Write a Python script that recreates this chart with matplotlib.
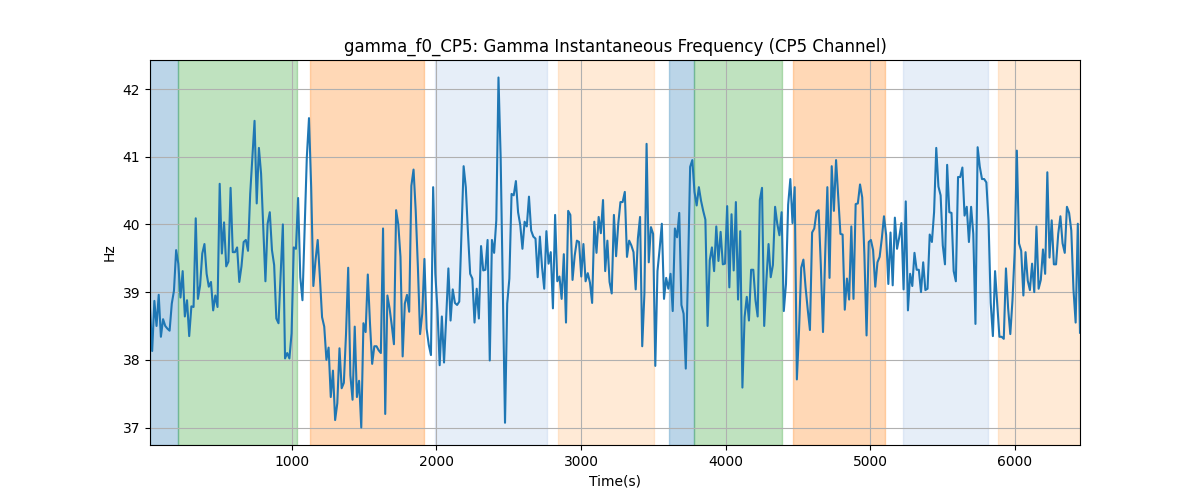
import numpy as np
import matplotlib
matplotlib.use("Agg")
import matplotlib.pyplot as plt

# gamma instantaneous frequency (Hz), ~15 s steps
seg1 = [38.77, 38.13, 38.87, 38.5, 38.96, 38.34, 38.6, 38.5, 38.46, 38.43,
        38.83, 39.02, 39.62, 39.42, 38.92, 39.31, 38.64, 38.88, 38.35, 38.79,
        38.78, 40.09, 38.9, 39.1, 39.57, 39.71, 39.27, 39.08, 39.15, 38.73,
        38.95, 38.78, 40.6, 39.57, 40.03, 39.38, 39.45, 40.54, 39.59, 39.59,
        39.66, 39.15, 39.38, 39.74, 39.77, 39.61, 40.45, 40.99, 41.53, 40.31,
        41.13, 40.75, 39.96]
seg2 = [39.16, 40.01, 40.18, 39.62, 39.4, 38.61, 38.54, 39.27, 40.0, 38.02,
        38.1, 38.02, 38.39, 39.66, 39.64, 40.39, 39.22, 38.88, 39.96, 40.99,
        41.57, 40.55, 39.09, 39.47, 39.77, 39.22, 38.63, 38.49, 38.0, 38.18,
        37.45, 37.84, 37.11, 37.36, 38.17, 37.58, 37.66, 38.38, 39.36, 37.77,
        37.41, 38.49, 37.45, 37.69, 37.0, 38.54, 38.41, 39.26, 38.54, 37.94,
        38.2, 38.2, 38.14, 38.1]
seg3 = [39.94, 37.2, 38.95, 38.76, 38.51, 38.23, 40.21, 40.0, 39.52, 38.05,
        38.83, 38.96, 38.71, 40.57, 40.81, 40.2, 39.37, 38.38, 38.68, 39.49,
        38.46, 38.22, 38.07, 40.55, 39.27, 38.73, 37.92, 38.64, 37.96, 38.63,
        39.35, 38.58, 39.04, 38.84, 38.81, 38.86, 39.87, 40.86, 40.55, 39.87,
        39.27, 39.2, 38.55, 39.05, 38.61, 39.68, 39.32, 39.33, 39.77, 37.99,
        39.77, 39.58, 40.06]
seg4 = [42.17, 40.99, 38.98, 37.07, 38.83, 39.2, 40.45, 40.43, 40.64, 40.18,
        39.99, 39.64, 40.04, 39.97, 40.41, 39.91, 39.82, 39.79, 39.22, 39.82,
        39.37, 39.05, 39.9, 39.42, 39.59, 38.76, 40.14, 39.16, 39.23, 38.9,
        39.56, 38.55, 40.2, 40.14, 39.18, 39.54, 39.76, 39.74, 39.23, 39.71,
        39.16, 39.28, 39.14, 38.84, 40.04, 39.58, 40.11, 39.87, 40.36, 39.31,
        39.76, 39.15, 38.98, 40.14]
seg5 = [39.53, 40.01, 40.33, 40.33, 40.48, 39.52, 39.76, 39.69, 39.59, 39.04,
        39.79, 40.11, 38.2, 38.98, 41.19, 39.44, 39.96, 39.86, 37.91, 39.31,
        39.64, 40.01, 38.9, 39.21, 39.05, 39.27, 38.72, 39.94, 39.81, 40.17,
        38.81, 38.68, 37.87, 39.27, 40.85, 40.95, 40.48, 40.28, 40.55, 40.35,
        40.2, 40.07, 38.5, 39.47, 39.66, 39.31, 39.97, 39.46, 39.89, 39.41,
        39.42, 40.27, 39.07]
seg6 = [40.15, 39.32, 40.33, 38.89, 39.9, 37.59, 38.63, 38.93, 38.58, 39.33,
        39.33, 38.88, 38.64, 40.36, 40.54, 38.5, 39.17, 39.71, 39.22, 39.4,
        40.26, 40.01, 39.84, 40.18, 38.72, 39.12, 40.29, 40.67, 40.02, 40.55,
        37.71, 38.44, 39.36, 39.48, 39.07, 38.74, 38.44, 39.88, 39.94, 40.18,
        40.21, 39.4, 38.41, 39.55, 40.55, 39.21, 40.86, 40.2, 40.95, 40.4,
        39.86, 39.85, 38.74]
seg7 = [39.2, 38.89, 39.97, 38.9, 40.3, 40.31, 40.59, 40.4, 39.56, 38.36,
        39.74, 39.77, 39.62, 39.08, 39.44, 39.52, 39.79, 40.12, 39.84, 39.12,
        39.88, 39.1, 40.1, 39.64, 39.81, 40.02, 39.04, 40.34, 38.73, 39.27,
        39.09, 39.58, 39.33, 39.33, 39.0, 39.44, 39.03, 39.05, 39.85, 39.74,
        40.18, 41.13, 40.56, 40.43, 39.69, 39.41, 40.88, 40.18, 40.17, 39.31,
        39.16, 40.7, 40.7]
seg8 = [40.84, 40.13, 40.26, 39.74, 40.26, 39.86, 38.53, 41.14, 40.85, 40.67,
        40.67, 40.62, 40.06, 38.84, 38.35, 39.31, 38.83, 38.34, 38.34, 38.31,
        39.35, 38.76, 38.38, 38.88, 39.59, 41.09, 39.72, 39.61, 38.95, 39.59,
        39.17, 39.03, 39.42, 39.0, 39.97, 39.05, 39.18, 39.63, 39.27, 40.77,
        39.51, 40.06, 39.41, 39.41, 39.86, 40.12, 39.72, 39.58, 40.26, 40.17,
        39.91, 39.04, 38.55, 40.01, 38.4]

freq = np.array(seg1 + seg2 + seg3 + seg4 + seg5 + seg6 + seg7 + seg8)
t_start, t_end = 20, 6450
time = np.linspace(t_start, t_end, len(freq))

# shaded segments (tab20 colours, alpha 0.3)
span_start = [20, 216, 1129, 1989, 2840, 3610, 3780, 4467, 5228, 5883]
span_end = [216, 1039, 1913, 2762, 3508, 3780, 4389, 5099, 5814, 6450]
span_color = ['#1f77b4', '#2ca02c', '#ff7f0e', '#aec7e8', '#ffbb78',
              '#1f77b4', '#2ca02c', '#ff7f0e', '#aec7e8', '#ffbb78']

fig, ax = plt.subplots(figsize=(12, 5), dpi=100)
for s, e, c in zip(span_start, span_end, span_color):
    ax.axvspan(s, e, color=c, alpha=0.3)
ax.plot(time, freq, color='tab:blue', linewidth=1.5)
ax.set_xlim(t_start, t_end)
ax.grid(True)
ax.set_title("gamma_f0_CP5: Gamma Instantaneous Frequency (CP5 Channel)")
ax.set_xlabel("Time(s)")
ax.set_ylabel("Hz")
fig.savefig("out.png")
